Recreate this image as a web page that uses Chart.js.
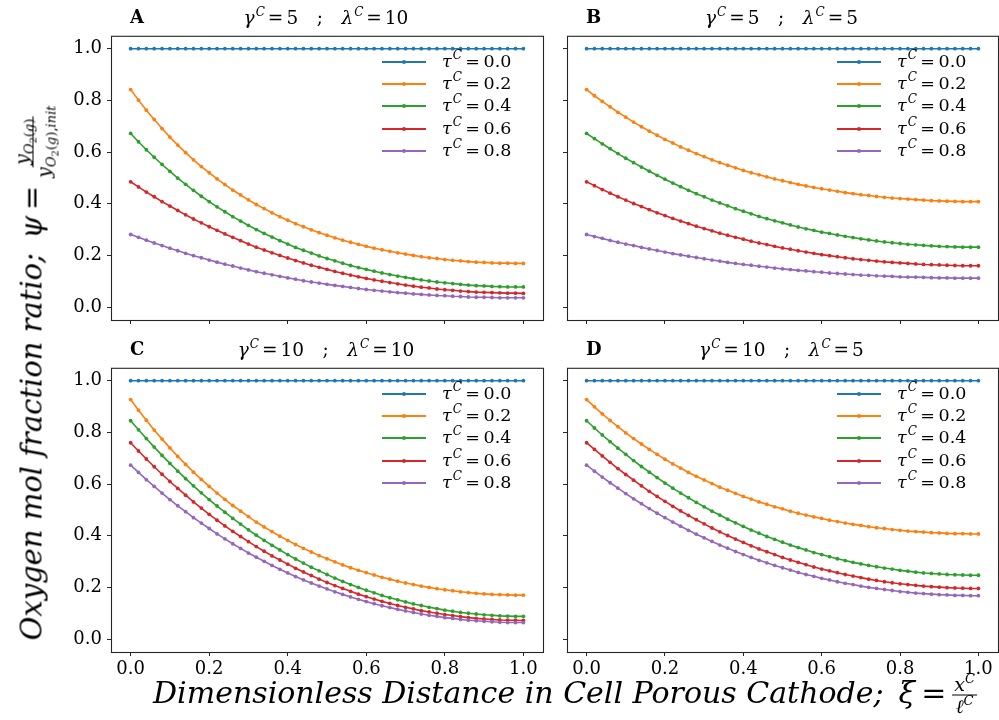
<!DOCTYPE html>
<html>
<head>
<meta charset="utf-8">
<script src="https://cdn.jsdelivr.net/npm/chart.js@4.4.1/dist/chart.umd.min.js"></script>
<style>
html,body{margin:0;padding:0;background:#fff;}
#wrap{position:relative;width:999px;height:720px;overflow:hidden;background:#fff;}
#wrap canvas{position:absolute;}
.txt{position:absolute;white-space:nowrap;color:#000;font-family:"DejaVu Serif",serif;line-height:1;}
.ital{font-style:italic;}
.letter{font-weight:bold;font-size:18px;}
.ttl{font-size:18.5px;transform:translate(-50%,-50%);}
.leg{font-size:17.5px;transform:translateY(-50%);}
.legline{position:absolute;height:2px;transform:translateY(-50%);}
.legdot{position:absolute;width:4px;height:4px;border-radius:50%;transform:translate(-50%,-50%);}
sup.m{font-size:12px;font-style:italic;vertical-align:0;position:relative;top:-8px;margin-left:1px;}
.eq{margin:0 3px;}
.frac{display:inline-flex;flex-direction:column;align-items:center;vertical-align:middle;font-size:19px;}
.frac .num{border-bottom:1.4px solid #000;padding:0 2px 1px 2px;}
.frac .den{padding:1px 2px 0 2px;}
.frac sub{font-size:13px;vertical-align:0;position:relative;top:5px;}
.frac sub sub{font-size:10px;top:3px;}
.frac sup{font-size:13px;vertical-align:0;position:relative;top:-8px;}
</style>
</head>
<body>
<div id="wrap"></div>
<script>
// ---------------- data ----------------
const xs = [0.00,0.02,0.04,0.06,0.08,0.10,0.12,0.14,0.16,0.18,0.20,0.22,0.24,0.26,0.28,0.30,0.32,0.34,0.36,0.38,0.40,0.42,0.44,0.46,0.48,0.50,0.52,0.54,0.56,0.58,0.60,0.62,0.64,0.66,0.68,0.70,0.72,0.74,0.76,0.78,0.80,0.82,0.84,0.86,0.88,0.90,0.92,0.94,0.96,0.98,1.00];
const tauLabels = ['0.0','0.2','0.4','0.6','0.8'];
const xTicks = [0.0,0.2,0.4,0.6,0.8,1.0];
const yTicks = [0.0,0.2,0.4,0.6,0.8,1.0];
const panelLetters = ['A','B','C','D'];
const gammaValues = ['5','5','10','10'];
const lambdaValues = ['10','5','10','5'];

const psiTau00 = [1,1,1,1,1,1,1,1,1,1,1,1,1,1,1,1,1,1,1,1,1,1,1,1,1,1,1,1,1,1,1,1,1,1,1,1,1,1,1,1,1,1,1,1,1,1,1,1,1,1,1];

const A_t02 = [0.842,0.801,0.762,0.726,0.691,0.658,0.627,0.598,0.570,0.544,0.520,0.496,0.474,0.453,0.434,0.415,0.397,0.381,0.365,0.350,0.336,0.323,0.311,0.299,0.288,0.278,0.268,0.259,0.251,0.243,0.235,0.228,0.222,0.216,0.210,0.205,0.200,0.195,0.191,0.188,0.184,0.181,0.179,0.176,0.174,0.173,0.171,0.170,0.170,0.169,0.169];
const A_t04 = [0.672,0.640,0.609,0.580,0.552,0.525,0.499,0.475,0.452,0.429,0.408,0.388,0.369,0.350,0.333,0.316,0.300,0.285,0.271,0.257,0.244,0.231,0.220,0.209,0.198,0.188,0.179,0.170,0.161,0.153,0.146,0.139,0.132,0.126,0.120,0.115,0.110,0.105,0.101,0.097,0.094,0.091,0.088,0.085,0.083,0.082,0.080,0.079,0.078,0.078,0.078];
const A_t06 = [0.485,0.465,0.445,0.427,0.408,0.391,0.374,0.357,0.341,0.326,0.311,0.297,0.283,0.270,0.257,0.244,0.232,0.221,0.210,0.200,0.190,0.180,0.171,0.162,0.154,0.146,0.138,0.131,0.124,0.117,0.111,0.105,0.100,0.095,0.090,0.085,0.081,0.077,0.074,0.070,0.067,0.065,0.062,0.060,0.058,0.057,0.056,0.055,0.054,0.054,0.053];
const A_t08 = [0.281,0.270,0.259,0.248,0.238,0.228,0.218,0.208,0.199,0.191,0.182,0.174,0.166,0.159,0.151,0.144,0.137,0.131,0.125,0.119,0.113,0.108,0.102,0.097,0.093,0.088,0.084,0.080,0.076,0.072,0.068,0.065,0.062,0.059,0.056,0.054,0.051,0.049,0.047,0.045,0.044,0.042,0.041,0.039,0.038,0.038,0.037,0.036,0.036,0.036,0.036];

const B_t02 = [0.842,0.818,0.796,0.775,0.754,0.735,0.716,0.698,0.681,0.665,0.649,0.635,0.620,0.607,0.594,0.582,0.570,0.559,0.549,0.539,0.529,0.520,0.512,0.504,0.496,0.489,0.482,0.475,0.469,0.463,0.458,0.453,0.448,0.443,0.439,0.435,0.432,0.428,0.425,0.422,0.420,0.418,0.416,0.414,0.412,0.411,0.410,0.409,0.408,0.408,0.408];
const B_t04 = [0.672,0.652,0.632,0.613,0.594,0.576,0.559,0.542,0.526,0.510,0.495,0.480,0.466,0.452,0.439,0.427,0.414,0.403,0.392,0.381,0.371,0.361,0.351,0.342,0.334,0.326,0.318,0.310,0.303,0.297,0.290,0.285,0.279,0.274,0.269,0.264,0.260,0.256,0.252,0.249,0.246,0.243,0.241,0.239,0.237,0.235,0.234,0.233,0.232,0.232,0.232];
const B_t06 = [0.485,0.470,0.455,0.441,0.427,0.414,0.401,0.389,0.377,0.365,0.354,0.343,0.333,0.323,0.313,0.304,0.295,0.286,0.278,0.270,0.263,0.255,0.248,0.242,0.235,0.229,0.224,0.218,0.213,0.208,0.203,0.199,0.195,0.191,0.187,0.184,0.181,0.178,0.175,0.173,0.171,0.169,0.167,0.165,0.164,0.163,0.162,0.161,0.160,0.160,0.160];
const B_t08 = [0.281,0.273,0.266,0.258,0.251,0.244,0.238,0.231,0.225,0.219,0.213,0.207,0.202,0.197,0.192,0.187,0.182,0.178,0.173,0.169,0.165,0.162,0.158,0.155,0.151,0.148,0.145,0.142,0.140,0.137,0.135,0.132,0.130,0.128,0.126,0.124,0.123,0.121,0.120,0.119,0.117,0.116,0.116,0.115,0.114,0.113,0.113,0.112,0.112,0.112,0.112];

const C_t02 = [0.927,0.886,0.847,0.809,0.774,0.740,0.707,0.676,0.646,0.618,0.591,0.565,0.541,0.517,0.495,0.474,0.453,0.434,0.416,0.398,0.382,0.366,0.351,0.337,0.323,0.311,0.299,0.287,0.276,0.266,0.257,0.248,0.239,0.232,0.224,0.217,0.211,0.205,0.200,0.195,0.191,0.187,0.183,0.180,0.177,0.175,0.173,0.172,0.171,0.170,0.170];
const C_t04 = [0.845,0.810,0.776,0.743,0.711,0.680,0.650,0.621,0.593,0.566,0.540,0.515,0.491,0.467,0.445,0.423,0.402,0.382,0.363,0.345,0.327,0.310,0.294,0.278,0.264,0.250,0.236,0.223,0.211,0.200,0.189,0.179,0.169,0.160,0.152,0.144,0.136,0.130,0.123,0.118,0.112,0.108,0.103,0.100,0.097,0.094,0.092,0.090,0.089,0.088,0.088];
const C_t06 = [0.760,0.728,0.697,0.667,0.638,0.610,0.583,0.557,0.531,0.507,0.483,0.460,0.438,0.417,0.397,0.377,0.358,0.340,0.322,0.306,0.290,0.274,0.260,0.246,0.232,0.219,0.207,0.196,0.185,0.174,0.164,0.155,0.146,0.138,0.130,0.123,0.117,0.110,0.105,0.100,0.095,0.091,0.087,0.083,0.080,0.078,0.076,0.074,0.073,0.073,0.072];
const C_t08 = [0.673,0.645,0.617,0.591,0.565,0.540,0.516,0.493,0.470,0.449,0.428,0.407,0.388,0.369,0.351,0.333,0.317,0.301,0.285,0.270,0.256,0.242,0.229,0.217,0.205,0.194,0.183,0.173,0.163,0.154,0.145,0.137,0.129,0.122,0.115,0.109,0.103,0.097,0.092,0.088,0.083,0.080,0.076,0.073,0.071,0.069,0.067,0.065,0.064,0.064,0.064];

const D_t02 = [0.927,0.899,0.872,0.846,0.822,0.798,0.776,0.755,0.734,0.715,0.696,0.678,0.662,0.645,0.630,0.616,0.602,0.588,0.576,0.564,0.552,0.542,0.531,0.522,0.512,0.504,0.495,0.487,0.480,0.473,0.467,0.460,0.455,0.449,0.444,0.440,0.435,0.431,0.428,0.424,0.421,0.418,0.416,0.414,0.412,0.411,0.409,0.408,0.408,0.407,0.407];
const D_t04 = [0.845,0.817,0.790,0.764,0.739,0.715,0.691,0.668,0.646,0.625,0.604,0.584,0.565,0.547,0.529,0.512,0.495,0.480,0.464,0.450,0.436,0.422,0.410,0.397,0.386,0.375,0.364,0.354,0.345,0.335,0.327,0.319,0.311,0.304,0.297,0.291,0.285,0.280,0.275,0.271,0.266,0.263,0.259,0.256,0.254,0.252,0.250,0.249,0.248,0.247,0.247];
const D_t06 = [0.760,0.734,0.709,0.684,0.660,0.637,0.615,0.593,0.572,0.552,0.533,0.514,0.496,0.479,0.462,0.446,0.430,0.415,0.401,0.387,0.374,0.361,0.349,0.338,0.327,0.316,0.306,0.297,0.288,0.279,0.271,0.264,0.257,0.250,0.244,0.238,0.232,0.227,0.222,0.218,0.214,0.211,0.208,0.205,0.203,0.201,0.199,0.198,0.197,0.196,0.196];
const D_t08 = [0.673,0.650,0.627,0.605,0.584,0.563,0.543,0.524,0.505,0.487,0.470,0.453,0.437,0.421,0.406,0.392,0.378,0.364,0.352,0.339,0.327,0.316,0.305,0.295,0.285,0.276,0.267,0.258,0.250,0.243,0.235,0.229,0.222,0.216,0.211,0.205,0.200,0.196,0.192,0.188,0.184,0.181,0.178,0.176,0.174,0.172,0.171,0.169,0.169,0.168,0.168];

// ---------------- style / layout ----------------
const COLORS = ['#1f77b4','#ff7f0e','#2ca02c','#d62728','#9467bd'];
const FRAMES = [
  {L:111, T:32,  R:543, B:320, xLab:false, yLab:true},
  {L:567, T:32,  R:998, B:320, xLab:false, yLab:false},
  {L:111, T:364, R:543, B:652, xLab:true,  yLab:true},
  {L:567, T:364, R:998, B:652, xLab:true,  yLab:false}
];
const PANEL_SERIES = [
  [psiTau00, A_t02, A_t04, A_t06, A_t08],
  [psiTau00, B_t02, B_t04, B_t06, B_t08],
  [psiTau00, C_t02, C_t04, C_t06, C_t08],
  [psiTau00, D_t02, D_t04, D_t06, D_t08]
];
const PADL = 75, PADT = 12, PADR = 8, PADB = 40;
const wrap = document.getElementById('wrap');

const framePlugin = {
  id: 'frame',
  afterDraw(chart) {
    const {ctx, chartArea: a} = chart;
    ctx.save();
    ctx.strokeStyle = '#262626';
    ctx.lineWidth = 1.1;
    ctx.strokeRect(a.left + 0.5, a.top + 0.5, a.right - a.left, a.bottom - a.top);
    ctx.restore();
  }
};

function addText(html, cls, x, y) {
  const d = document.createElement('div');
  d.className = 'txt ' + cls;
  d.style.left = x + 'px';
  d.style.top = y + 'px';
  d.innerHTML = html;
  wrap.appendChild(d);
  return d;
}

FRAMES.forEach((f, p) => {
  const cv = document.createElement('canvas');
  const w = (f.R - f.L) + PADL + PADR;
  const h = (f.B - f.T) + PADT + PADB;
  cv.width = w; cv.height = h;
  cv.style.left = (f.L - PADL) + 'px';
  cv.style.top = (f.T - PADT) + 'px';
  cv.style.width = w + 'px'; cv.style.height = h + 'px';
  wrap.appendChild(cv);

  const datasets = PANEL_SERIES[p].map((ys, i) => ({
    label: 'tau ' + tauLabels[i],
    data: xs.map((x, k) => ({x: x, y: ys[k]})),
    borderColor: COLORS[i],
    backgroundColor: COLORS[i],
    pointBackgroundColor: COLORS[i],
    borderWidth: 1.6,
    pointRadius: 1.9,
    pointBorderWidth: 0,
    pointHoverRadius: 0,
    tension: 0,
    order: 4 - i
  }));

  new Chart(cv, {
    type: 'line',
    data: {datasets},
    plugins: [framePlugin],
    options: {
      responsive: false,
      animation: false,
      devicePixelRatio: 1,
      layout: {padding: {left: 0, top: PADT, right: PADR, bottom: 0}},
      plugins: {legend: {display: false}, tooltip: {enabled: false}, title: {display: false}},
      scales: {
        x: {
          type: 'linear', min: -0.05, max: 1.05,
          afterBuildTicks: (s) => { s.ticks = xTicks.map(v => ({value: v})); },
          afterFit: (s) => { s.height = PADB; },
          grid: {drawOnChartArea: false, drawTicks: true, tickLength: 4, color: '#262626', lineWidth: 1},
          border: {display: false},
          ticks: {
            padding: 3, color: '#000',
            font: {family: 'DejaVu Serif', size: 18},
            callback: (v) => f.xLab ? Number(v).toFixed(1) : ''
          }
        },
        y: {
          type: 'linear', min: -0.05, max: 1.05,
          afterBuildTicks: (s) => { s.ticks = yTicks.map(v => ({value: v})); },
          afterFit: (s) => { s.width = PADL; },
          grid: {drawOnChartArea: false, drawTicks: true, tickLength: 4, color: '#262626', lineWidth: 1},
          border: {display: false},
          ticks: {
            padding: 5, color: '#000',
            font: {family: 'DejaVu Serif', size: 18},
            callback: (v) => f.yLab ? Number(v).toFixed(1) : ''
          }
        }
      }
    }
  });

  // panel letter + title
  addText(panelLetters[p], 'letter', f.L + 19, f.T - 24);
  addText('<span class="ital">γ</span><sup class="m">C</sup><span class="eq">=</span>' + gammaValues[p] +
          '&ensp;&ensp;;&ensp;&ensp;<span class="ital">λ</span><sup class="m">C</sup><span class="eq">=</span>' + lambdaValues[p],
          'ttl', (f.L + f.R) / 2 - 1, f.T - 14);

  // legend
  tauLabels.forEach((t, i) => {
    const cy = f.T + 30 + 22.2 * i;
    const ln = document.createElement('div');
    ln.className = 'legline';
    ln.style.left = (f.R - 161) + 'px';
    ln.style.top = cy + 'px';
    ln.style.width = '44px';
    ln.style.background = COLORS[i];
    wrap.appendChild(ln);
    const dt = document.createElement('div');
    dt.className = 'legdot';
    dt.style.left = (f.R - 139) + 'px';
    dt.style.top = cy + 'px';
    dt.style.background = COLORS[i];
    wrap.appendChild(dt);
    addText('<span class="ital">τ</span><sup class="m">C</sup>&thinsp;=&thinsp;' + t, 'leg', f.R - 101, cy);
  });
});

// axis labels
const xl = addText('<span class="ital">Dimensionless Distance in Cell Porous Cathode;</span>&ensp;<span class="ital">ξ</span>&thinsp;=&thinsp;' +
  '<span class="frac"><span class="num"><span class="ital">x</span><sup class="ital">C</sup></span><span class="den"><span class="ital">ℓ</span><sup class="ital">C</sup></span></span>',
  '', 565, 695);
xl.style.fontSize = '30px';
xl.style.transform = 'translate(-50%,-50%)';

const yl = addText('<span class="ital">Oxygen mol fraction ratio;</span>&ensp;<span class="ital">ψ</span>&thinsp;=&thinsp;' +
  '<span class="frac"><span class="num"><span class="ital">y</span><sub><span class="ital">O</span><sub>2</sub>(<span class="ital">g</span>)</sub></span>' +
  '<span class="den"><span class="ital">y</span><sub><span class="ital">O</span><sub>2</sub>(<span class="ital">g</span>),<span class="ital">init</span></sub></span></span>',
  '', 33, 372);
yl.style.fontSize = '29px';
yl.style.transform = 'translate(-50%,-50%) rotate(-90deg)';
</script>
</body>
</html>
